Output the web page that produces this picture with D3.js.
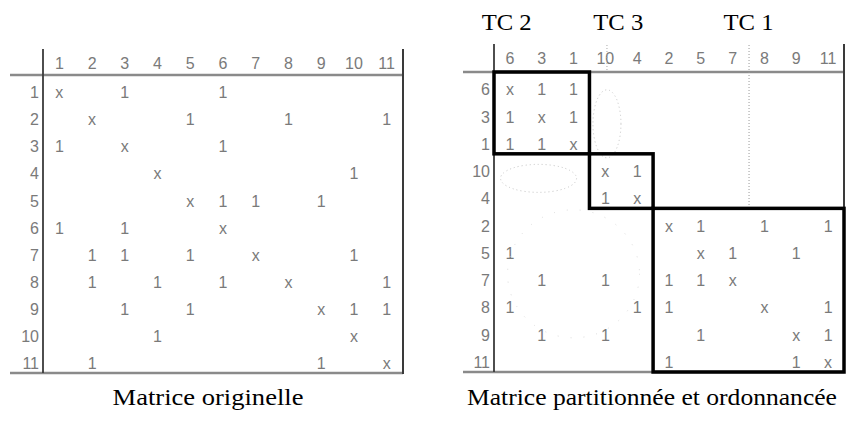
<!DOCTYPE html>
<html><head><meta charset="utf-8">
<script src="https://cdn.jsdelivr.net/npm/d3@7/dist/d3.min.js"></script>
</head>
<body style="margin:0">
<svg id="chart" width="852" height="424"></svg>
<script>
// ---- data ----
const items = [1,2,3,4,5,6,7,8,9,10,11];
const orderOriginal = [1,2,3,4,5,6,7,8,9,10,11];
const orderPartitioned = [6,3,1,10,4,2,5,7,8,9,11];
// (row, column) pairs holding a "1"; the diagonal holds "x"
const links = [
  [1,3],[1,6],
  [2,5],[2,8],[2,11],
  [3,1],[3,6],
  [4,10],
  [5,6],[5,7],[5,9],
  [6,1],[6,3],
  [7,2],[7,3],[7,5],[7,10],
  [8,2],[8,4],[8,6],[8,11],
  [9,3],[9,5],[9,10],[9,11],
  [10,4],
  [11,2],[11,9]
];
const blockNames = ["TC 2","TC 3","TC 1"];
const blockMembers = [[6,3,1],[10,4],[2,5,7,8,9,11]];
const captionLeft = "Matrice originelle";
const captionRight = "Matrice partitionnée et ordonnancée";

// cells
const cells = items.map(i => ({r:i, c:i, v:"x"})).concat(links.map(([r,c]) => ({r, c, v:"1"})));

const svg = d3.select("#chart");
const grey = "#7a7a7a";
const SANS = "Liberation Sans, Arimo, Arial, sans-serif";
const SERIF = "Liberation Serif, Tinos, Times, serif";

function font(sel, fam, size) {
  return sel.attr("font-family", fam).attr("font-size", size)
    .style("font-family", fam, "important").style("font-size", size + "px", "important");
}

function fitWidth(sel, target) {
  const w = sel.node().getComputedTextLength();
  const cx = +sel.attr("x"), cy = +sel.attr("y");
  const k = target / w;
  sel.attr("transform", `translate(${cx},${cy}) scale(${k},1) translate(${-cx},${-cy})`);
}

function drawMatrix(order, cfg) {
  const g = svg.append("g");
  const x = d3.scaleBand().domain(order).range([cfg.x0, cfg.x1]);
  const y = d3.scaleBand().domain(order).range([cfg.y0, cfg.y1]);

  // frame lines
  g.append("line").attr("x1", cfg.hx).attr("x2", cfg.x1).attr("y1", cfg.y0).attr("y2", cfg.y0)
    .attr("stroke", "#8a8a8a").attr("stroke-width", 2.5);
  g.append("line").attr("x1", cfg.hx).attr("x2", cfg.x1).attr("y1", cfg.y1).attr("y2", cfg.y1)
    .attr("stroke", "#8a8a8a").attr("stroke-width", 2.5);
  g.append("line").attr("x1", cfg.x0).attr("x2", cfg.x0).attr("y1", cfg.vtop).attr("y2", cfg.y1)
    .attr("stroke", "#3a3a3a").attr("stroke-width", 1.8);
  g.append("line").attr("x1", cfg.x1).attr("x2", cfg.x1).attr("y1", cfg.vtop).attr("y2", cfg.y1 + 1)
    .attr("stroke", "#3a3a3a").attr("stroke-width", 2);

  // column labels (top axis)
  const top = d3.axisTop(x).tickSize(0).tickPadding(0);
  const ga = g.append("g").attr("transform", `translate(0,${cfg.labelY})`).call(top);
  ga.select(".domain").remove();
  font(ga, SANS, 16);
  font(ga.selectAll("text"), SANS, 16).attr("fill", grey).attr("dy", "0.35em");

  // row labels (left axis)
  const left = d3.axisLeft(y).tickSize(0).tickPadding(0);
  const gl = g.append("g").attr("transform", `translate(${cfg.x0 - 4},4)`).call(left);
  gl.select(".domain").remove();
  font(gl, SANS, 16);
  font(gl.selectAll("text"), SANS, 16).attr("fill", grey).attr("dy", "0.35em");

  // cells
  const ct = g.selectAll("text.cell").data(cells).join("text").attr("class", "cell")
    .attr("x", d => x(d.c) + x.bandwidth() / 2)
    .attr("y", d => y(d.r) + y.bandwidth() / 2 + 4)
    .attr("dy", "0.35em")
    .attr("text-anchor", "middle")
    .attr("fill", grey)
    .text(d => d.v);
  font(ct, SANS, 16);

  return {g, x, y};
}

// left matrix
drawMatrix(orderOriginal, {x0: 43, x1: 403, y0: 75, y1: 373, hx: 10, vtop: 49, labelY: 63});

// right matrix
const R = drawMatrix(orderPartitioned, {x0: 494, x1: 844, y0: 72, y1: 372, hx: 463, vtop: 44, labelY: 58});

// faint dotted annotations (separators and ellipses)
const xr = R.x, yr = R.y, bw = xr.bandwidth(), bh = yr.bandwidth();
R.g.append("line")
  .attr("x1", xr(7) + bw + 0.5).attr("x2", xr(7) + bw + 0.5)
  .attr("y1", 45).attr("y2", yr(2))
  .attr("stroke", "#999").attr("stroke-width", 1).attr("stroke-dasharray", "1,2");
R.g.append("line")
  .attr("x1", xr(10) + bw * 0.55).attr("x2", xr(10) + bw * 0.55)
  .attr("y1", 45).attr("y2", 72)
  .attr("stroke", "#aaa").attr("stroke-width", 1).attr("stroke-dasharray", "1,2");
R.g.append("ellipse")
  .attr("cx", xr(10) + bw * 0.55).attr("cy", yr(3) + bh * 0.9)
  .attr("rx", 14).attr("ry", 34)
  .attr("fill", "none").attr("stroke", "#c4c4c4").attr("stroke-width", 1).attr("stroke-dasharray", "1,3");
R.g.append("ellipse")
  .attr("cx", xr(3) + bw * 0.4).attr("cy", yr(10) + bh * 0.9)
  .attr("rx", 38).attr("ry", 14)
  .attr("fill", "none").attr("stroke", "#c4c4c4").attr("stroke-width", 1).attr("stroke-dasharray", "1,3");
R.g.append("ellipse")
  .attr("cx", xr(1) + bw * 0.5).attr("cy", yr(7) + bh * 0.4)
  .attr("rx", 66).attr("ry", 64)
  .attr("fill", "none").attr("stroke", "#dcdcdc").attr("stroke-width", 1).attr("stroke-dasharray", "1,12");

// thick block borders
const labelOffsets = [-35, -3, 0];
blockMembers.forEach((m, i) => {
  const first = m[0], last = m[m.length - 1];
  const bx0 = xr(first), bx1 = xr(last) + bw;
  const by0 = yr(first), by1 = yr(last) + bh;
  R.g.append("rect")
    .attr("x", bx0).attr("y", by0)
    .attr("width", bx1 - bx0).attr("height", by1 - by0)
    .attr("fill", "none").attr("stroke", "#000").attr("stroke-width", 3.5);
  const t = svg.append("text")
    .attr("x", (bx0 + bx1) / 2 + labelOffsets[i]).attr("y", 30)
    .attr("text-anchor", "middle")
    .attr("fill", "#000")
    .text(blockNames[i]);
  font(t, SERIF, 24);
  fitWidth(t, 50);
});

// captions
const c1 = svg.append("text").attr("x", 208).attr("y", 405).attr("text-anchor", "middle")
  .attr("fill", "#000").text(captionLeft);
font(c1, SERIF, 24);
fitWidth(c1, 191);
const c2 = svg.append("text").attr("x", 652).attr("y", 405).attr("text-anchor", "middle")
  .attr("fill", "#000").text(captionRight);
font(c2, SERIF, 24);
fitWidth(c2, 370);
</script>
</body></html>
